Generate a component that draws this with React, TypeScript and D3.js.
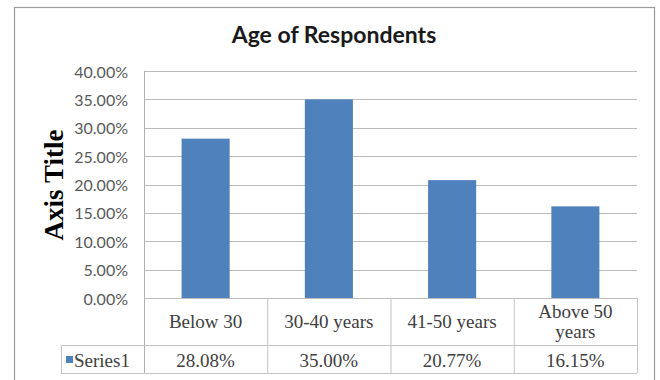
import React from "react";
import * as d3 from "d3";

const categories: string[][] = [["Below 30"], ["30-40 years"], ["41-50 years"], ["Above 50", "years"]];
const values: number[] = [0.2808, 0.35, 0.2077, 0.1615];
const valueLabels: string[] = ["28.08%", "35.00%", "20.77%", "16.15%"];
const yTicks: number[] = [0, 0.05, 0.1, 0.15, 0.2, 0.25, 0.3, 0.35, 0.4];
const seriesName = "Series1";
const title = "Age of Respondents";
const axisTitle = "Axis Title";

const W = 660;
const H = 380;
const plotLeft = 144;
const plotRight = 637;
const plotTop = 71;
const plotBottom = 298;
const catRowBottom = 345;
const tableBottom = 373;
const tableLeft = 61;
const barColor = "#4F81BD";
const serif = "'Liberation Serif', 'Times New Roman', serif";

export default function App() {
  const keys = categories.map((c) => c.join(" "));
  const x = d3.scaleBand<string>().domain(keys).range([plotLeft, plotRight]).padding(0);
  const y = d3.scaleLinear().domain([0, 0.4]).range([plotBottom, plotTop]);
  const fmt = d3.format(".2%");
  const bw = x.bandwidth() * 0.39;
  const boundaries = keys.map((k) => (x(k) as number) + x.bandwidth());

  return (
    <svg
      width={W}
      height={H}
      style={{ position: "absolute", left: 0, top: 0, background: "#fff" }}
    >
      <rect x={0} y={0} width={W} height={H} fill="#fff" />
      <rect x={14.5} y={7.5} width={640} height={380} fill="#fff" stroke="#9a9a9a" strokeWidth={1.2} />
      <text
        x={334}
        y={43}
        textAnchor="middle"
        fontFamily="Lato, 'Open Sans', sans-serif"
        fontWeight="bold"
        fontSize={23}
        fill="#1a1a1a"
      >
        {title}
      </text>
      {yTicks.map((t) => (
        <g key={t}>
          <line
            x1={plotLeft}
            x2={plotRight}
            y1={Math.round(y(t)) + 0.5}
            y2={Math.round(y(t)) + 0.5}
            stroke="#bcbcbc"
            strokeWidth={1}
          />
          <text
            x={128}
            y={y(t)}
            textAnchor="end"
            dominantBaseline="central"
            fontFamily="Lato, sans-serif"
            fontSize={16}
            fill="#595959"
          >
            {fmt(t)}
          </text>
        </g>
      ))}
      <text
        transform={`translate(54,185) rotate(-90)`}
        textAnchor="middle"
        dominantBaseline="central"
        fontFamily={serif}
        fontWeight="bold"
        fontSize={27}
        fill="#000"
      >
        {axisTitle}
      </text>
      {keys.map((k, i) => (
        <rect
          key={k}
          x={(x(k) as number) + x.bandwidth() / 2 - bw / 2}
          y={y(values[i])}
          width={bw}
          height={plotBottom - y(values[i])}
          fill={barColor}
        />
      ))}
      <line x1={plotLeft + 0.5} x2={plotLeft + 0.5} y1={plotTop} y2={tableBottom} stroke="#b0b0b0" />
      {boundaries.map((b, i) => (
        <line key={i} x1={b + 0.5} x2={b + 0.5} y1={plotBottom} y2={tableBottom} stroke="#c4c4c4" />
      ))}
      <line x1={tableLeft} x2={plotRight} y1={catRowBottom + 0.5} y2={catRowBottom + 0.5} stroke="#c4c4c4" />
      <line x1={tableLeft} x2={plotRight} y1={tableBottom + 0.5} y2={tableBottom + 0.5} stroke="#c4c4c4" />
      <line x1={tableLeft + 0.5} x2={tableLeft + 0.5} y1={catRowBottom} y2={tableBottom} stroke="#c4c4c4" />
      {categories.map((c, i) => {
        const cx = (x(keys[i]) as number) + x.bandwidth() / 2;
        const baseY = c.length === 1 ? 328 : 318;
        return (
          <text
            key={keys[i]}
            textAnchor="middle"
            fontFamily={serif}
            fontSize={19}
            fill="#404040"
          >
            {c.map((line, j) => (
              <tspan key={j} x={cx} y={baseY + j * 20}>
                {line}
              </tspan>
            ))}
          </text>
        );
      })}
      {valueLabels.map((v, i) => (
        <text
          key={v}
          x={(x(keys[i]) as number) + x.bandwidth() / 2}
          y={367}
          textAnchor="middle"
          fontFamily={serif}
          fontSize={19}
          fill="#404040"
        >
          {v}
        </text>
      ))}
      <rect x={66} y={356} width={7} height={7} fill={barColor} />
      <text x={74} y={367} fontFamily={serif} fontSize={19} fill="#404040">
        {seriesName}
      </text>
    </svg>
  );
}
